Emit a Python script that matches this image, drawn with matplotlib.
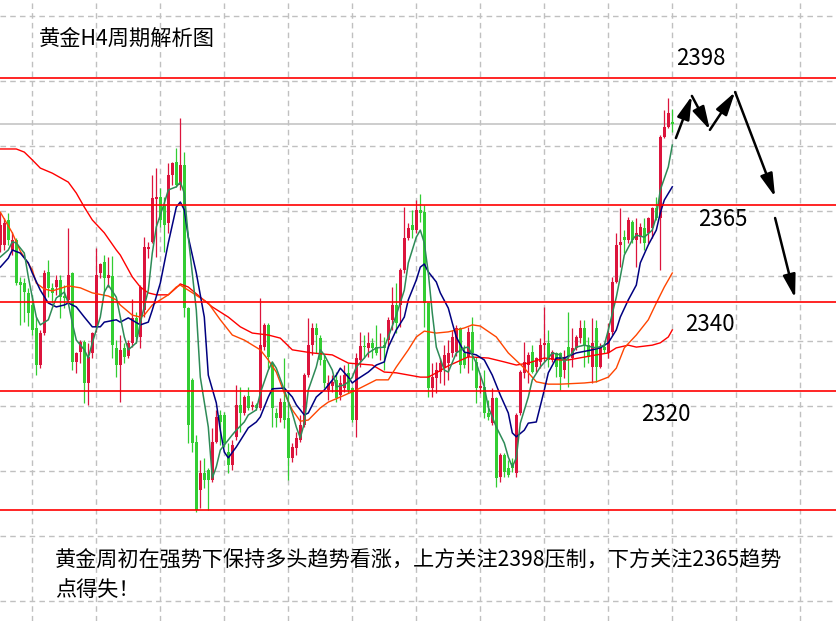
import numpy as np
import matplotlib
matplotlib.use("Agg")
import matplotlib.pyplot as plt
from matplotlib.patches import FancyArrowPatch

plt.rcParams['font.family'] = ['Noto Sans CJK SC', 'DejaVu Sans']

# gold H4 candles, oldest first (price)
opens = [
    2355.2, 2355.2, 2361.6, 2353.9, 2356.5, 2345.7, 2345.4, 2342.9, 2339.8, 2333.9,
    2324.4, 2332.6, 2348.3, 2344.2, 2344.4, 2346.2, 2342.1, 2341.1, 2348.0, 2325.2,
    2327.7, 2330.3, 2319.8, 2327.5, 2334.2, 2348.0, 2350.8, 2346.7, 2347.2, 2328.8,
    2324.4, 2328.8, 2326.7, 2330.1, 2336.5, 2331.6, 2338.5, 2354.2, 2356.0, 2367.0,
    2367.5, 2365.4, 2360.8, 2373.1, 2376.5, 2370.6, 2375.7, 2339.0, 2320.6, 2304.7,
    2292.4, 2296.7, 2297.5, 2294.9, 2304.7, 2311.6, 2311.6, 2302.1, 2298.8, 2306.0,
    2314.2, 2312.1, 2316.5, 2313.6, 2314.2, 2313.4, 2329.0, 2334.7, 2324.9, 2312.1,
    2310.8, 2314.9, 2310.8, 2300.6, 2303.1, 2305.2, 2309.0, 2321.8, 2329.5, 2333.9,
    2331.3, 2325.7, 2318.0, 2319.0, 2320.6, 2316.7, 2318.5, 2322.4, 2318.5, 2310.3,
    2325.7, 2329.3, 2328.8, 2330.1, 2329.0, 2328.8, 2329.5, 2330.8, 2336.0, 2339.8,
    2339.8, 2348.8, 2357.0, 2360.3, 2359.0, 2364.2, 2363.6, 2340.3, 2318.5, 2321.1,
    2322.6, 2323.6, 2324.9, 2327.5, 2327.7, 2333.9, 2327.5, 2326.5, 2332.9, 2325.2,
    2318.5, 2318.8, 2312.1, 2309.5, 2316.0, 2295.7, 2301.3, 2298.0, 2299.3, 2296.7,
    2312.1, 2322.4, 2324.4, 2327.7, 2323.9, 2325.2, 2329.5, 2330.1, 2325.7, 2327.5,
    2327.5, 2323.1, 2329.0, 2326.2, 2328.8, 2331.3, 2333.9, 2329.5, 2323.9, 2333.9,
    2323.9, 2329.0, 2327.5, 2332.9, 2345.7, 2355.2, 2357.2, 2356.5, 2361.1, 2356.5,
    2357.2, 2359.5, 2358.3, 2359.5, 2364.7, 2362.1, 2382.9, 2385.4, 2386.7,
]
highs = [
    2363.6, 2362.1, 2363.4, 2358.5, 2357.0, 2347.0, 2346.7, 2344.2, 2342.4, 2336.7,
    2333.4, 2348.8, 2351.3, 2345.4, 2347.5, 2347.5, 2344.9, 2359.5, 2348.3, 2327.7,
    2330.8, 2330.8, 2330.1, 2332.9, 2354.4, 2350.6, 2352.6, 2352.1, 2352.4, 2330.8,
    2332.1, 2330.1, 2330.8, 2341.3, 2338.0, 2344.9, 2357.2, 2356.0, 2373.1, 2374.9,
    2369.8, 2367.5, 2376.2, 2376.5, 2380.1, 2387.7, 2379.0, 2339.3, 2321.1, 2306.5,
    2300.1, 2300.6, 2298.0, 2308.3, 2312.9, 2312.9, 2312.4, 2304.4, 2305.2, 2319.3,
    2318.8, 2316.7, 2318.8, 2315.2, 2314.7, 2341.6, 2335.2, 2335.2, 2325.2, 2313.4,
    2316.0, 2326.2, 2318.0, 2304.4, 2307.2, 2311.6, 2322.4, 2336.5, 2335.2, 2335.2,
    2332.1, 2327.0, 2321.8, 2321.8, 2322.6, 2321.8, 2324.4, 2324.9, 2318.8, 2327.5,
    2332.9, 2332.1, 2332.9, 2331.3, 2334.7, 2332.6, 2331.6, 2336.7, 2344.4, 2345.4,
    2349.3, 2364.9, 2360.8, 2364.2, 2366.7, 2368.3, 2365.4, 2340.6, 2324.9, 2325.2,
    2326.2, 2329.5, 2330.8, 2333.4, 2334.7, 2334.2, 2329.5, 2334.2, 2336.7, 2326.5,
    2321.8, 2323.1, 2315.4, 2318.5, 2316.2, 2301.8, 2301.8, 2300.1, 2300.6, 2312.1,
    2323.1, 2330.3, 2327.7, 2329.5, 2326.5, 2331.3, 2339.3, 2333.4, 2328.3, 2327.7,
    2327.7, 2328.3, 2338.0, 2333.9, 2332.1, 2336.0, 2336.0, 2331.6, 2336.5, 2336.0,
    2330.1, 2330.1, 2335.2, 2347.0, 2358.3, 2364.7, 2359.0, 2362.4, 2361.6, 2362.1,
    2360.8, 2362.1, 2362.4, 2364.9, 2367.5, 2383.4, 2389.8, 2392.9, 2390.1,
]
lows = [
    2353.4, 2353.9, 2355.2, 2352.6, 2344.9, 2334.7, 2335.4, 2334.4, 2332.1, 2321.8,
    2323.6, 2332.1, 2341.8, 2340.3, 2342.4, 2336.5, 2339.0, 2340.6, 2323.1, 2322.4,
    2324.9, 2314.7, 2314.2, 2326.2, 2332.9, 2346.7, 2343.1, 2344.4, 2326.2, 2321.3,
    2314.9, 2324.9, 2326.2, 2329.0, 2330.1, 2328.8, 2336.7, 2351.8, 2355.7, 2352.1,
    2359.8, 2353.4, 2358.3, 2370.6, 2370.1, 2369.3, 2336.7, 2304.4, 2302.1, 2286.7,
    2287.7, 2292.9, 2287.2, 2294.4, 2304.4, 2303.9, 2303.4, 2296.7, 2297.5, 2305.2,
    2307.2, 2311.6, 2312.9, 2312.9, 2312.9, 2312.9, 2328.3, 2323.6, 2308.5, 2308.5,
    2309.8, 2308.3, 2294.9, 2299.5, 2301.3, 2304.7, 2308.5, 2321.3, 2327.0, 2327.5,
    2324.4, 2318.5, 2315.4, 2317.5, 2314.9, 2315.4, 2317.5, 2317.2, 2309.8, 2306.0,
    2323.9, 2326.2, 2326.5, 2326.2, 2327.0, 2325.7, 2323.1, 2328.8, 2333.4, 2332.6,
    2334.2, 2348.0, 2356.5, 2357.0, 2358.3, 2361.1, 2334.2, 2316.2, 2316.2, 2317.2,
    2319.8, 2319.3, 2320.6, 2326.5, 2326.7, 2322.4, 2323.6, 2322.4, 2323.1, 2314.7,
    2317.2, 2310.8, 2310.3, 2309.0, 2293.1, 2294.4, 2295.7, 2295.7, 2297.0, 2295.7,
    2311.6, 2321.1, 2319.8, 2322.4, 2322.6, 2323.6, 2325.2, 2323.9, 2325.2, 2321.3,
    2318.0, 2321.1, 2318.8, 2323.9, 2328.3, 2330.1, 2323.9, 2324.9, 2319.8, 2320.1,
    2323.6, 2327.5, 2326.2, 2332.1, 2345.4, 2349.5, 2353.1, 2355.7, 2355.7, 2349.5,
    2355.7, 2353.9, 2355.7, 2357.0, 2361.6, 2348.8, 2382.6, 2385.2, 2384.2,
]
closes = [
    2360.3, 2360.8, 2356.5, 2356.5, 2345.4, 2344.9, 2343.1, 2337.7, 2333.4, 2324.4,
    2332.6, 2348.0, 2344.2, 2342.9, 2346.2, 2341.8, 2341.6, 2347.5, 2325.2, 2327.5,
    2330.3, 2319.8, 2326.5, 2332.6, 2347.5, 2350.3, 2346.7, 2347.5, 2329.5, 2324.4,
    2328.3, 2326.5, 2330.1, 2336.5, 2331.6, 2344.4, 2354.7, 2354.7, 2367.2, 2367.5,
    2361.6, 2360.3, 2373.1, 2376.2, 2370.6, 2375.7, 2339.0, 2309.0, 2304.4, 2287.2,
    2296.7, 2294.9, 2294.9, 2304.7, 2311.1, 2309.8, 2304.4, 2298.8, 2303.9, 2314.2,
    2312.1, 2316.2, 2313.4, 2314.2, 2313.4, 2329.5, 2334.7, 2326.5, 2313.4, 2310.8,
    2314.9, 2310.3, 2300.6, 2303.4, 2305.7, 2309.0, 2321.8, 2329.5, 2333.9, 2332.1,
    2325.7, 2319.8, 2319.8, 2320.1, 2316.0, 2319.8, 2321.8, 2318.0, 2310.3, 2326.2,
    2329.3, 2329.0, 2330.1, 2328.8, 2327.5, 2329.0, 2328.8, 2336.0, 2339.8, 2335.2,
    2348.8, 2357.0, 2359.5, 2359.0, 2364.2, 2363.4, 2340.3, 2318.5, 2321.3, 2323.1,
    2324.9, 2327.0, 2327.5, 2331.6, 2333.9, 2324.4, 2324.4, 2332.9, 2327.5, 2318.5,
    2319.0, 2312.1, 2311.1, 2316.0, 2295.4, 2301.3, 2297.0, 2296.2, 2298.0, 2311.6,
    2322.6, 2325.2, 2327.0, 2322.6, 2326.2, 2329.5, 2330.1, 2325.7, 2327.7, 2323.9,
    2321.3, 2326.5, 2326.5, 2328.8, 2331.6, 2333.9, 2329.5, 2326.5, 2330.1, 2323.9,
    2329.0, 2328.3, 2332.6, 2345.7, 2355.2, 2356.0, 2356.5, 2361.6, 2356.5, 2358.3,
    2359.8, 2355.7, 2362.1, 2364.7, 2362.1, 2382.9, 2385.4, 2389.0, 2386.2,
]

# moving averages, read at some bars
ma5_bars = [0, 2, 3, 4, 6, 7, 8, 9, 10, 12, 13, 14, 16, 17, 18, 19, 21, 22, 23, 25,
            26, 27, 29, 31, 32, 34, 35, 37, 38, 39, 41, 42, 44, 45, 46, 47, 49, 50, 52, 53,
            54, 55, 57, 58, 59, 61, 62, 64, 65, 67, 68, 69, 71, 73, 74, 75, 76, 77, 79, 80,
            81, 83, 84, 86, 87, 88, 89, 91, 92, 94, 96, 97, 99, 101, 102, 104, 105, 106, 107, 108,
            109, 111, 112, 114, 116, 117, 119, 121, 122, 124, 126, 127, 128, 129, 130, 132, 133, 135, 137, 138,
            140, 141, 143, 144, 146, 148, 149, 151, 152, 154, 155, 156, 158, 159, 161, 163, 164, 165, 167, 168]
ma5_vals = [2352.1, 2353.9, 2356.0, 2355.7, 2353.1, 2347.0, 2341.8, 2336.7, 2334.7, 2336.0,
            2339.0, 2341.6, 2343.1, 2340.3, 2335.2, 2330.8, 2328.3, 2326.2, 2330.1, 2336.7,
            2343.1, 2344.9, 2341.8, 2331.6, 2328.3, 2330.1, 2335.2, 2343.6, 2353.1, 2359.8,
            2365.9, 2369.3, 2370.1, 2371.3, 2368.5, 2357.2, 2338.5, 2321.3, 2308.5, 2295.4,
            2298.3, 2302.6, 2305.2, 2306.5, 2307.7, 2309.8, 2311.6, 2312.9, 2317.2, 2323.1,
            2325.2, 2323.6, 2318.0, 2312.1, 2308.5, 2305.7, 2309.5, 2318.0, 2323.9, 2328.3,
            2327.0, 2323.1, 2318.8, 2319.3, 2320.1, 2321.3, 2323.9, 2326.2, 2327.5, 2328.8,
            2329.0, 2331.6, 2337.2, 2343.6, 2350.6, 2357.2, 2359.0, 2355.7, 2348.0, 2337.7,
            2329.0, 2323.1, 2322.6, 2327.5, 2328.8, 2329.0, 2324.9, 2318.8, 2313.6, 2308.5,
            2304.4, 2300.8, 2298.3, 2300.6, 2309.5, 2316.2, 2320.6, 2323.9, 2326.2, 2327.5,
            2327.0, 2325.2, 2327.5, 2329.0, 2329.5, 2329.0, 2328.8, 2329.5, 2333.4, 2341.8,
            2347.0, 2352.6, 2356.5, 2357.7, 2357.2, 2359.0, 2362.4, 2369.3, 2375.2, 2380.8]

ma10_bars = [0, 2, 3, 5, 7, 8, 10, 12, 14, 16, 17, 19, 21, 23, 25, 26, 29, 30, 32, 35,
             37, 38, 40, 42, 44, 45, 46, 47, 49, 51, 52, 54, 55, 56, 57, 59, 62, 64, 65, 67,
             68, 71, 73, 74, 76, 77, 79, 81, 84, 85, 87, 88, 89, 92, 94, 96, 97, 99, 101, 102,
             104, 105, 106, 107, 109, 110, 112, 113, 114, 116, 117, 119, 121, 123, 125, 127, 128, 129, 131, 132,
             134, 136, 137, 139, 141, 144, 148, 150, 152, 154, 155, 157, 159, 160, 162, 164, 165, 166, 168]
ma10_vals = [2349.5, 2351.8, 2353.9, 2353.1, 2350.6, 2348.0, 2343.6, 2340.3, 2339.3, 2339.8,
             2340.3, 2339.3, 2336.7, 2334.2, 2334.2, 2335.4, 2336.0, 2335.4, 2336.5, 2334.7,
             2335.4, 2338.5, 2345.4, 2355.7, 2364.9, 2366.2, 2364.2, 2357.2, 2348.0, 2336.7,
             2321.8, 2314.7, 2307.7, 2302.1, 2300.6, 2303.4, 2308.3, 2309.8, 2311.1, 2316.2,
             2318.3, 2318.5, 2316.2, 2314.2, 2311.6, 2312.1, 2316.2, 2318.0, 2321.8, 2323.6,
             2321.3, 2319.8, 2320.6, 2322.6, 2324.4, 2325.2, 2329.0, 2333.4, 2336.7, 2341.1,
             2346.2, 2349.5, 2350.3, 2348.3, 2345.7, 2342.9, 2339.0, 2335.2, 2331.6, 2327.7,
             2327.5, 2327.0, 2325.7, 2321.8, 2316.7, 2312.1, 2307.0, 2306.0, 2307.7, 2309.5,
             2309.8, 2318.0, 2322.4, 2326.2, 2326.2, 2327.5, 2328.3, 2328.8, 2330.1, 2333.4,
             2336.7, 2341.1, 2344.9, 2350.6, 2355.2, 2359.0, 2363.4, 2366.7, 2370.1]

ma30_bars = [0, 3, 5, 8, 9, 11, 13, 17, 20, 23, 27, 29, 30, 33, 35, 36, 38, 42, 44, 45,
             47, 52, 55, 58, 61, 65, 67, 69, 71, 73, 75, 77, 80, 82, 85, 89, 94, 97, 99, 102,
             104, 106, 109, 112, 116, 118, 120, 124, 127, 131, 134, 137, 140, 146, 149, 152, 154, 156, 159, 162,
             164, 166, 168]
ma30_vals = [2363.6, 2358.3, 2353.6, 2348.8, 2345.4, 2343.9, 2343.4, 2344.7, 2344.2, 2342.9,
             2342.1, 2341.1, 2339.8, 2337.2, 2336.7, 2337.2, 2339.8, 2342.4, 2344.4, 2344.9,
             2343.6, 2340.3, 2336.0, 2332.1, 2330.8, 2328.3, 2325.7, 2322.6, 2317.2, 2312.9,
             2310.0, 2310.3, 2313.4, 2314.9, 2316.2, 2318.0, 2320.6, 2320.6, 2323.9, 2328.3,
             2331.6, 2333.1, 2332.6, 2332.9, 2333.9, 2334.7, 2334.4, 2331.6, 2327.5, 2323.6,
             2320.1, 2319.5, 2319.5, 2319.8, 2320.1, 2321.3, 2323.6, 2328.8, 2332.1, 2336.0,
             2340.3, 2344.4, 2348.0]

ma60_bars = [0, 4, 6, 8, 10, 13, 17, 19, 21, 23, 26, 29, 30, 33, 35, 37, 39, 42, 44, 45,
             47, 50, 53, 57, 60, 63, 67, 70, 73, 78, 83, 87, 93, 96, 99, 105, 107, 109, 112, 117,
             122, 126, 129, 132, 136, 140, 142, 149, 152, 154, 157, 159, 163, 165, 167, 168]
ma60_vals = [2379.8, 2379.8, 2379.0, 2377.0, 2374.9, 2373.6, 2371.3, 2368.5, 2364.9, 2361.6,
             2358.3, 2353.9, 2352.6, 2347.0, 2344.4, 2342.9, 2342.4, 2342.4, 2344.2, 2345.2,
             2344.4, 2341.8, 2339.3, 2336.7, 2334.2, 2332.6, 2332.1, 2331.3, 2328.3, 2327.5,
             2327.0, 2324.9, 2324.4, 2322.6, 2322.4, 2321.3, 2321.3, 2322.4, 2324.2, 2326.5,
             2326.2, 2325.2, 2324.4, 2324.9, 2326.2, 2325.7, 2325.7, 2327.0, 2327.5, 2328.8,
             2329.5, 2329.0, 2329.5, 2330.1, 2331.6, 2333.4]

# horizontal levels drawn on the chart
levels = [2398.0, 2365.4, 2340.6, 2317.7, 2287.2]
level_labels = ["2398", "2365", "2340", "2320"]
bid = 2386.2

# forecast path drawn with arrows (bar, price)
path1 = [(168.9, 2382.6), (172.9, 2393.4), (177.4, 2384.7), (183.7, 2394.4), (193.7, 2367.5)]
path2 = [(193.7, 2362.1), (198.7, 2341.6)]

fig = plt.figure(figsize=(8.37, 6.21), dpi=100)
ax = fig.add_axes([0, 0, 1, 1])
ax.set_xlim(-0.075, 209.175)
ax.set_ylim(2418 - 621 / 3.9, 2418)

# grid
ax.set_xticks(np.arange(8, 210, 16))
ax.set_yticks(2413.9 - 16.667 * np.arange(10))
ax.grid(True, color="#c0c0c0", linestyle=(0, (4, 3)), linewidth=1)
ax.set_axisbelow(True)
ax.tick_params(length=0, labelbottom=False, labelleft=False)
for s in ax.spines.values():
    s.set_visible(False)

ax.axhline(bid, color="#c0c0c0", lw=1.1, zorder=1)

# candles
o = np.array(opens)
h = np.array(highs)
l = np.array(lows)
c = np.array(closes)
idx = np.arange(len(o))
cols = np.where(c >= o, "#dc143c", "#32cd32")
ax.vlines(idx, l, h, colors=cols, lw=0.9, zorder=2)
ax.bar(idx, np.maximum(np.abs(c - o), 0.3), bottom=np.minimum(o, c), width=0.72,
       color=cols, linewidth=0, zorder=2)

# moving averages
ax.plot(ma60_bars, ma60_vals, color="#ff0000", lw=1, zorder=3)
ax.plot(ma30_bars, ma30_vals, color="#ff4500", lw=1, zorder=3)
ax.plot(ma10_bars, ma10_vals, color="#000080", lw=1.1, zorder=3)
ax.plot(ma5_bars, ma5_vals, color="#2e8b57", lw=1.1, zorder=3)

for lv in levels:
    ax.axhline(lv, color="#ff0000", lw=1.2, zorder=4)

# arrows
for path in (path1, path2):
    for a, b in zip(path[:-1], path[1:]):
        ax.add_patch(FancyArrowPatch(a, b, arrowstyle="-|>,head_length=1.4,head_width=0.38",
                                     mutation_scale=10, lw=1.8, color="black",
                                     shrinkA=0, shrinkB=0, zorder=5))

# labels
ax.text(175.2, 2402.9, level_labels[0], fontsize=16, ha="center", va="center")
ax.text(180.7, 2361.6, level_labels[1], fontsize=16, ha="center", va="center")
ax.text(177.4, 2334.7, level_labels[2], fontsize=16, ha="center", va="center")
ax.text(166.4, 2311.6, level_labels[3], fontsize=16, ha="center", va="center")

ax.text(0.047, 0.937, "黄金H4周期解析图", transform=ax.transAxes, fontsize=15.3,
        ha="left", va="center")
ax.text(0.066, 0.097, "黄金周初在强势下保持多头趋势看涨，上方关注2398压制，下方关注2365趋势",
        transform=ax.transAxes, fontsize=15.2, ha="left", va="center")
ax.text(0.066, 0.050, "点得失！", transform=ax.transAxes, fontsize=15.2, ha="left", va="center")

fig.savefig("out.png", dpi=100)
